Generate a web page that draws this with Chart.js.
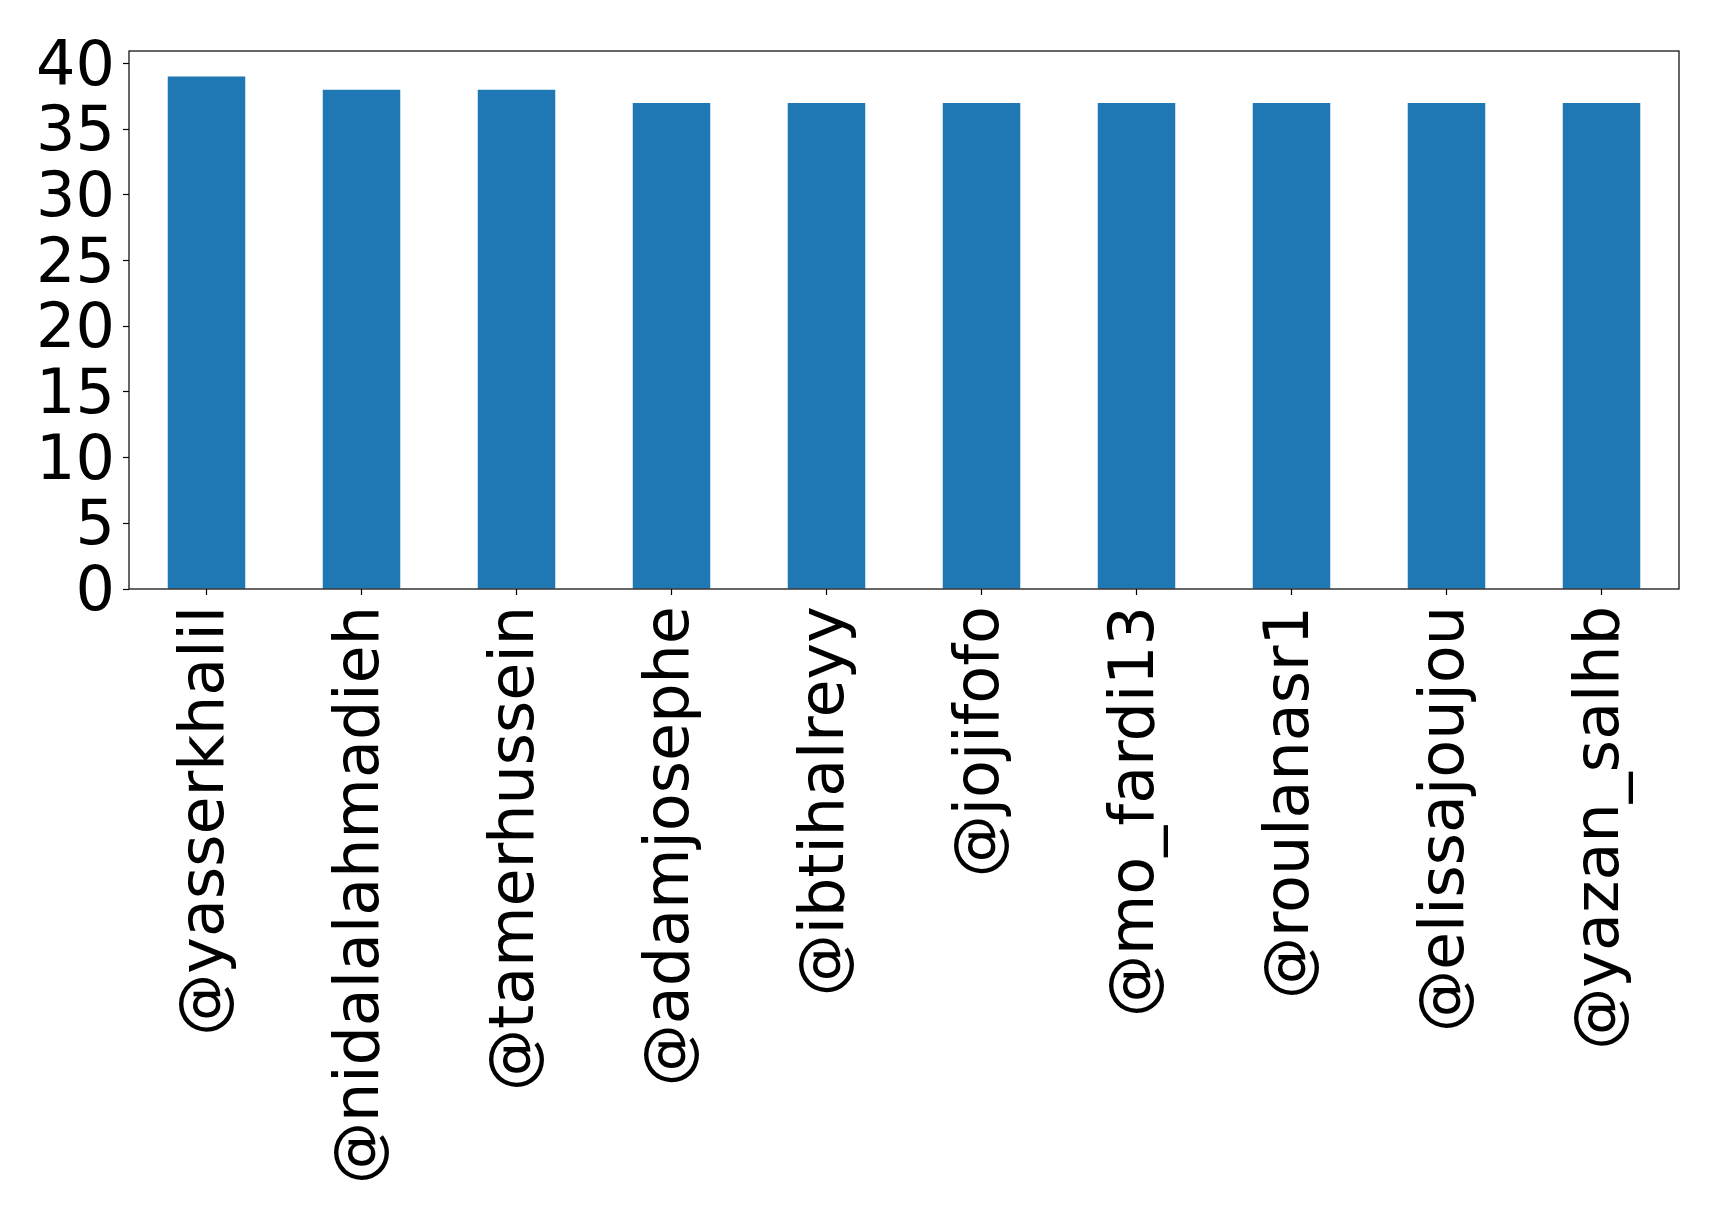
<!DOCTYPE html>
<html>
<head>
<meta charset="utf-8">
<script src="https://cdn.jsdelivr.net/npm/chart.js@4/dist/chart.umd.min.js"></script>
<style>
  html, body { margin: 0; padding: 0; background: #fff; }
  #wrap { width: 1719px; height: 1221px; }
</style>
</head>
<body>
<div id="wrap"><canvas id="chart" width="1719" height="1221"></canvas></div>
<script>
// data
const users = ['@yasserkhalil', '@nidalalahmadieh', '@tamerhussein', '@adamjosephe', '@ibtihalreyy',
  '@jojifofo', '@mo_fardi13', '@roulanasr1', '@elissajoujou', '@yazan_salhb'];
const counts = [39, 38, 38, 37, 37, 37, 37, 37, 37, 37];
const yTicks = [0, 5, 10, 15, 20, 25, 30, 35, 40];

// full box round the plot, like matplotlib spines
const frame = {
  id: 'frame',
  afterDraw(chart) {
    const { ctx, chartArea: a } = chart;
    ctx.save();
    ctx.strokeStyle = '#000';
    ctx.lineWidth = 1.2;
    ctx.strokeRect(a.left, a.top, a.right - a.left, a.bottom - a.top);
    ctx.restore();
  }
};

const font = { family: 'DejaVu Sans', size: 62 };

new Chart(document.getElementById('chart'), {
  type: 'bar',
  data: {
    labels: users,
    datasets: [{
      data: counts,
      backgroundColor: '#1f77b4',
      barPercentage: 0.5,
      categoryPercentage: 1.0
    }]
  },
  options: {
    responsive: false,
    animation: false,
    layout: { padding: { top: 51, right: 40, left: 0, bottom: 0 } },
    plugins: { legend: { display: false }, tooltip: { enabled: false } },
    scales: {
      x: {
        grid: { display: true, offset: false, drawOnChartArea: false, tickLength: 6, tickColor: '#000', tickWidth: 1.2 },
        border: { display: false },
        ticks: { color: '#000', font: font, maxRotation: 90, minRotation: 90, padding: 11, autoSkip: false },
        afterFit(s) { s.height = 632; }
      },
      y: {
        min: 0,
        max: 40.95,
        grid: { display: true, drawOnChartArea: false, tickLength: 6, tickColor: '#000', tickWidth: 1.2 },
        border: { display: false },
        afterBuildTicks(s) { s.ticks = yTicks.map(v => ({ value: v })); },
        ticks: { color: '#000', font: font, padding: 8, autoSkip: false, labelOffset: 5 },
        afterFit(s) { s.width = 129; }
      }
    }
  },
  plugins: [frame]
});
</script>
</body>
</html>
